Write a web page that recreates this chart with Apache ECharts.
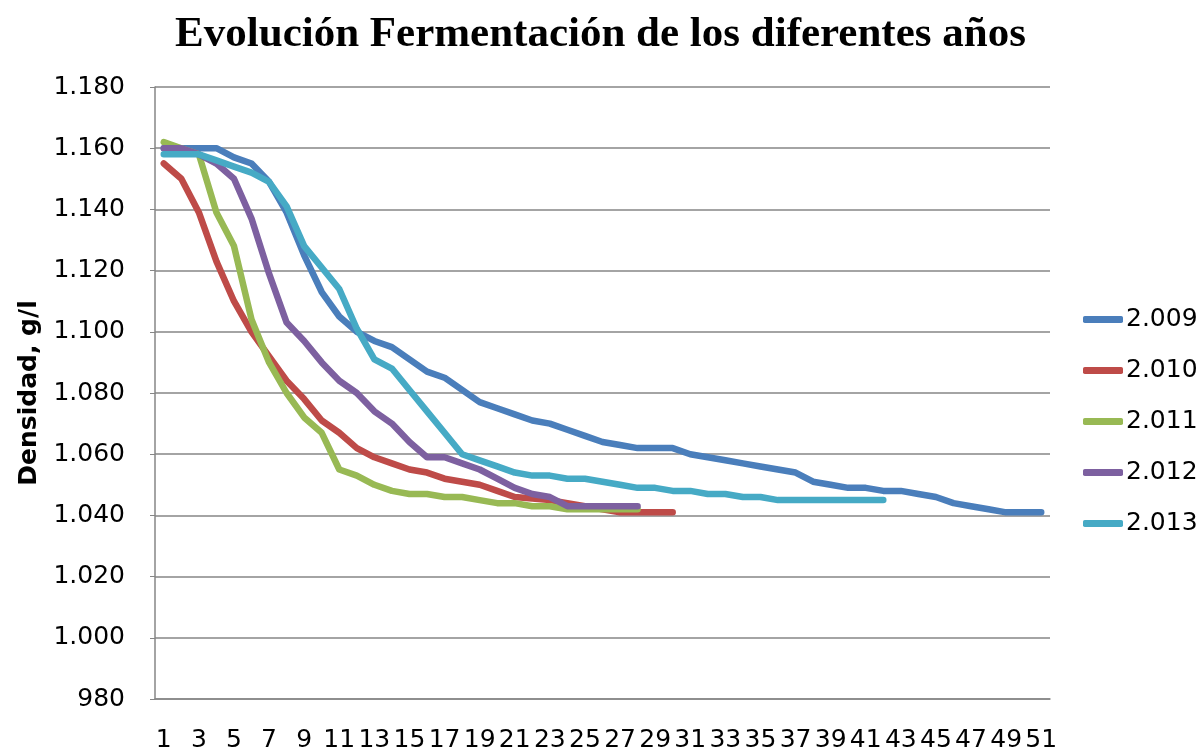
<!DOCTYPE html>
<html>
<head>
<meta charset="utf-8">
<script src="https://cdn.jsdelivr.net/npm/echarts@6/dist/echarts.min.js"></script>
<style>html,body{margin:0;padding:0;background:#fff;}#c{width:1201px;height:753px;}</style>
</head>
<body>
<div id="c"></div>
<script>
const categories = Array.from({length: 51}, (_, i) => String(i + 1));
const yearNames = ['2.009', '2.010', '2.011', '2.012', '2.013'];
const y2009 = [1160,1160,1160,1160,1157,1155,1149,1139,1125,1113,1105,1100,1097,1095,1091,1087,1085,1081,1077,1075,1073,1071,1070,1068,1066,1064,1063,1062,1062,1062,1060,1059,1058,1057,1056,1055,1054,1051,1050,1049,1049,1048,1048,1047,1046,1044,1043,1042,1041,1041,1041];
const y2010 = [1155,1150,1139,1123,1110,1100,1092,1084,1078,1071,1067,1062,1059,1057,1055,1054,1052,1051,1050,1048,1046,1045.5,1045,1044,1043,1042,1041,1041,1041,1041];
const y2011 = [1162,1160,1158,1139,1128,1104,1090,1080,1072,1067,1055,1053,1050,1048,1047,1047,1046,1046,1045,1044,1044,1043,1043,1042,1042,1042,1042,1042];
const y2012 = [1160,1160,1158,1155,1150,1137,1119,1103,1097,1090,1084,1080,1074,1070,1064,1059,1059,1057,1055,1052,1049,1047,1046,1043,1043,1043,1043,1043];
const y2013 = [1158,1158,1158,1156,1154,1152,1149,1141,1128,1121,1114,1101,1091,1088,1081,1074,1067,1060,1058,1056,1054,1053,1053,1052,1052,1051,1050,1049,1049,1048,1048,1047,1047,1046,1046,1045,1045,1045,1045,1045,1045,1045];
const colors = ['#4A7EBB', '#BE4B48', '#98B954', '#7D60A0', '#46AAC5'];

function fmt(v) {
  if (v >= 1000) {
    return Math.floor(v / 1000) + '.' + String(v % 1000).padStart(3, '0');
  }
  return String(v);
}

const allData = [y2009, y2010, y2011, y2012, y2013];
const chart = echarts.init(document.getElementById('c'));
chart.setOption({
  backgroundColor: '#fff',
  animation: false,
  title: {
    text: 'Evolución Fermentación de los diferentes años',
    left: 'center',
    top: 8,
    textStyle: {fontFamily: 'Liberation Serif', fontWeight: 'bold', fontSize: 43, color: '#000'}
  },
  legend: {
    orient: 'vertical',
    left: 1078,
    top: 302,
    itemGap: 26,
    itemWidth: 40,
    itemHeight: 7,
    icon: 'roundRect',
    textStyle: {fontFamily: 'DejaVu Sans', fontSize: 25, color: '#000', padding: [0,0,0,-2]},
    data: yearNames
  },
  grid: {left: 155, right: 151, top: 87, bottom: 54},
  xAxis: {
    type: 'category',
    data: categories,
    boundaryGap: true,
    axisLine: {lineStyle: {color: '#868686', width: 1.5}},
    axisTick: {show: false},
    axisLabel: {interval: 1, margin: 29, fontFamily: 'DejaVu Sans', fontSize: 25, color: '#000'}
  },
  yAxis: {
    type: 'value',
    min: 980,
    max: 1180,
    interval: 20,
    name: 'Densidad, g/l',
    nameLocation: 'middle',
    nameGap: 113,
    nameTextStyle: {fontFamily: 'DejaVu Sans', fontWeight: 'bold', fontSize: 25, color: '#000'},
    axisLine: {show: true, lineStyle: {color: '#868686', width: 1.5}},
    axisTick: {show: true, length: 5, lineStyle: {color: '#868686'}},
    axisLabel: {margin: 30, formatter: fmt, fontFamily: 'DejaVu Sans', fontSize: 25, color: '#000'},
    splitLine: {lineStyle: {color: '#868686', width: 1.5}}
  },
  series: allData.map((d, i) => ({
    name: yearNames[i],
    type: 'line',
    data: d,
    symbol: 'none',
    color: colors[i],
    lineStyle: {width: 6.5, color: colors[i], cap: 'round', join: 'round'}
  }))
});
</script>
</body>
</html>
